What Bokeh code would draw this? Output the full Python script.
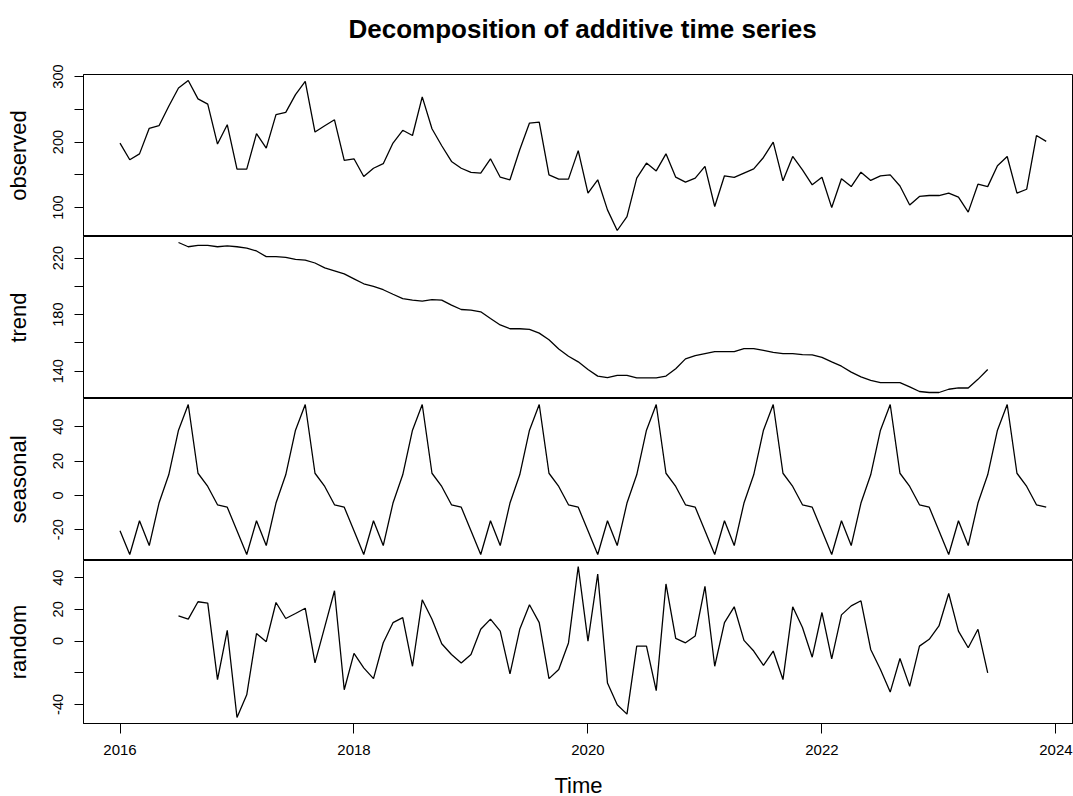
from bokeh.plotting import figure
from bokeh.layouts import column
from bokeh.models import FixedTicker, Range1d, Title
from bokeh.embed import file_html
from bokeh.resources import INLINE

FONT = "Liberation Sans"

# ---- data (monthly, Jan 2016 .. Dec 2023) ----
start_year = 2016
observed = [
    198.5, 173, 182, 221, 225, 254.6, 282.6, 294, 266, 258, 197, 226.5,
    158.7, 158.7, 212.8, 190.8, 241.8, 245.4, 272.4, 292.8, 215.3, 225, 234, 172,
    174.5, 147.5, 160, 167, 198.5, 218, 210, 269, 220.4, 194.4, 170.4, 160,
    153.6, 152.6, 174.5, 146.4, 142.4, 188.3, 229, 230.6, 150, 143.4, 143.4, 187,
    122, 142.4, 96.5, 65, 86.3, 145, 168, 156, 182, 146.4, 138.8, 145,
    162.8, 101.6, 148.5, 146, 152.6, 159, 176.5, 200, 140.8, 178, 157.7, 134.7,
    146.4, 100, 144, 132, 154, 141.4, 148.5, 150, 133, 104, 117, 118.4,
    118.4, 122, 115.8, 93, 135.7, 132, 163.8, 178, 122, 128, 210, 201,
]

# trend and random are defined from Jul 2016 (index 6) to Jun 2023 (index 89)
trend_first_index = 6
trend = [
    231, 228, 228.9, 228.9, 228, 228.6,
    228, 227, 225, 221, 221, 220.5, 219, 218.6, 216.5, 213, 211, 208.8,
    205.3, 201.8, 200, 197.6, 194.4, 191.3, 190.2, 189.5, 190.6, 190.2, 186.7, 183.6,
    183.2, 182, 177.3, 172.7, 170, 170, 169.6, 166.9, 162.2, 155.7, 150.5, 146.6,
    141.2, 136.5, 135.4, 137, 137, 135.2, 135.2, 135.2, 136.5, 141.7, 148.7, 151,
    152.4, 153.8, 153.8, 153.8, 155.9, 155.9, 154.7, 153.3, 152.4, 152.4, 151.7, 151.5,
    149.8, 146.6, 143.5, 139.3, 135.9, 133.5, 131.9, 131.9, 131.9, 128.9, 125.6, 124.9,
    124.9, 127.2, 128.1, 128.1, 134.2, 141.2,
]

seasonal = [
    -20.6, -34.5, -14.8, -29.3, -4.5, 12.0, 38.0, 53.0, 12.9, 5.2, -5.5, -6.9,
    -20.6, -34.5, -14.8, -29.3, -4.5, 12.0, 38.0, 53.0, 12.9, 5.2, -5.5, -6.9,
    -20.6, -34.5, -14.8, -29.3, -4.5, 12.0, 38.0, 53.0, 12.9, 5.2, -5.5, -6.9,
    -20.6, -34.5, -14.8, -29.3, -4.5, 12.0, 38.0, 53.0, 12.9, 5.2, -5.5, -6.9,
    -20.6, -34.5, -14.8, -29.3, -4.5, 12.0, 38.0, 53.0, 12.9, 5.2, -5.5, -6.9,
    -20.6, -34.5, -14.8, -29.3, -4.5, 12.0, 38.0, 53.0, 12.9, 5.2, -5.5, -6.9,
    -20.6, -34.5, -14.8, -29.3, -4.5, 12.0, 38.0, 53.0, 12.9, 5.2, -5.5, -6.9,
    -20.6, -34.5, -14.8, -29.3, -4.5, 12.0, 38.0, 53.0, 12.9, 5.2, -5.5, -6.9,
]

random_part = [
    15.9, 13.8, 24.8, 23.9, -24.3, 6.8,
    -48.2, -33.9, 4.7, -0.4, 24.3, 14.2, 17.4, 20.7, -13.8, 8.9, 31.7, -30.7,
    -7.8, -16.9, -23.7, -1.1, 11.6, 14.8, -15.9, 26, 13.8, -1.7, -8.5, -13.8,
    -8.5, 7.4, 13.8, 6.3, -20.7, 7.4, 22.9, 11.6, -23.7, -18, -1.2, 47,
    0, 42.3, -26.5, -40.2, -46.1, -3.2, -3.2, -31.3, 36, 1.7, -1.1, 3.2,
    34.5, -15.9, 11.6, 21.6, 0.4, -6.3, -15.4, -6.3, -24.3, 21.6, 8.5, -10.2,
    18, -11.2, 16.5, 22.2, 25.4, -5.3, -18, -32.2, -11, -28.6, -3.2, 1.1,
    9.5, 30, 6.3, -4.2, 7.4, -20.1,
]

title_text = "Decomposition of additive time series"
x_ticks = [2016, 2018, 2020, 2022, 2024]
panels = [
    ("observed", 0, observed, [100, 150, 200, 250, 300], [100, 200, 300]),
    ("trend", trend_first_index, trend, [140, 160, 180, 200, 220], [140, 180, 220]),
    ("seasonal", 0, seasonal, [-20, 0, 20, 40], [-20, 0, 20, 40]),
    ("random", trend_first_index, random_part, [-40, -20, 0, 20, 40], [-40, 0, 20, 40]),
]

x_range = Range1d(2015.688, 2024.150)
FRAME_W = 990
FRAME_HS = [162, 162, 162, 163]
TOP = 74
BOTTOM = 796 - TOP - sum(FRAME_HS)

figs = []
for k, (name, first_idx, vals, ticks, shown) in enumerate(panels):
    first = k == 0
    last = k == len(panels) - 1
    xs = [start_year + (first_idx + i) / 12 for i in range(len(vals))]
    lo, hi = min(vals), max(vals)
    pad = 0.04 * (hi - lo)
    p = figure(
        frame_width=FRAME_W, frame_height=FRAME_HS[k],
        x_range=x_range, y_range=Range1d(lo - pad, hi + pad),
        output_backend="svg", toolbar_location=None,
        x_axis_location="below" if last else None,
        min_border_left=83, min_border_right=0,
        min_border_top=TOP if first else 0,
        min_border_bottom=BOTTOM if last else 0,
    )
    p.grid.grid_line_color = None
    p.outline_line_color = "black"
    p.outline_line_width = 1
    p.outline_line_alpha = 1
    p.background_fill_color = "white"
    p.border_fill_color = "white"

    p.line(xs, vals, line_color="black", line_width=1.3)

    ax = p.yaxis[0]
    ax.ticker = FixedTicker(ticks=ticks)
    ax.major_label_overrides = {t: (str(t) if t in shown else "") for t in ticks}
    ax.major_label_orientation = "vertical"
    ax.major_tick_out = 9
    ax.major_tick_in = 0
    ax.minor_tick_line_color = None
    ax.major_label_standoff = 11
    ax.major_label_text_font = FONT
    ax.major_label_text_font_size = "14.5px"
    ax.major_label_text_color = "black"
    ax.axis_line_color = "black"
    ax.major_tick_line_color = "black"
    ax.axis_label = name
    ax.axis_label_text_font = FONT
    ax.axis_label_text_font_size = "22px"
    ax.axis_label_text_font_style = "normal"
    ax.axis_label_text_color = "black"
    ax.axis_label_standoff = 20

    if first:
        # spacer between frame and title, then the title itself
        p.add_layout(Title(text=" ", text_font_size="2px", standoff=27), "above")
        p.add_layout(Title(text=title_text, align="left", offset=265,
                           text_font=FONT, text_font_size="26px",
                           text_font_style="bold", text_color="black",
                           standoff=0), "above")

    if last:
        xa = p.xaxis[0]
        xa.ticker = FixedTicker(ticks=x_ticks)
        xa.major_label_overrides = {t: str(t) for t in x_ticks}
        xa.major_tick_out = 10
        xa.major_tick_in = 0
        xa.minor_tick_line_color = None
        xa.major_label_standoff = 11
        xa.major_label_text_font = FONT
        xa.major_label_text_font_size = "15px"
        xa.major_label_text_color = "black"
        xa.axis_line_color = "black"
        xa.major_tick_line_color = "black"
        xa.axis_label = "Time"
        xa.axis_label_text_font = FONT
        xa.axis_label_text_font_size = "22px"
        xa.axis_label_text_font_style = "normal"
        xa.axis_label_text_color = "black"
        xa.axis_label_standoff = 15

    figs.append(p)

layout = column(*figs, spacing=0)
open("out.html", "w").write(file_html(layout, INLINE))
